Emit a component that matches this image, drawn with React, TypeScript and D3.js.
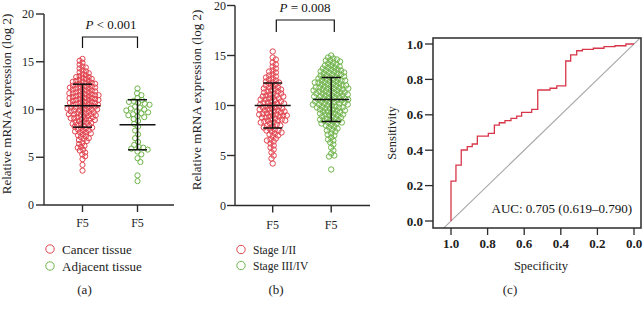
import React from 'react';
import * as d3 from 'd3';

// ---------- data ----------
const valueTicks = [0, 5, 10, 15, 20];
const groupLabels = ['F5', 'F5'];

const cancerTissue = [15.3, 15.1, 14.9, 14.7, 14.5, 14.4, 14.3, 14.1, 14.0, 13.9, 13.8, 13.7, 13.6, 13.5, 13.4, 13.4, 13.3, 13.2, 13.2, 13.1, 13.0, 13.0, 12.9, 12.9, 12.8, 12.8, 12.7, 12.7, 12.6, 12.6, 12.5, 12.5, 12.4, 12.4, 12.3, 12.3, 12.3, 12.2, 12.2, 12.1, 12.1, 12.0, 12.0, 11.9, 11.9, 11.8, 11.8, 11.7, 11.7, 11.7, 11.6, 11.6, 11.5, 11.5, 11.5, 11.4, 11.4, 11.3, 11.3, 11.2, 11.2, 11.2, 11.1, 11.1, 11.0, 11.0, 11.0, 10.9, 10.9, 10.8, 10.8, 10.7, 10.7, 10.7, 10.6, 10.6, 10.5, 10.5, 10.5, 10.4, 10.4, 10.3, 10.3, 10.2, 10.2, 10.2, 10.1, 10.1, 10.0, 10.0, 10.0, 9.9, 9.9, 9.8, 9.8, 9.7, 9.7, 9.6, 9.6, 9.5, 9.5, 9.5, 9.4, 9.4, 9.3, 9.3, 9.2, 9.2, 9.1, 9.1, 9.0, 9.0, 8.9, 8.9, 8.8, 8.7, 8.7, 8.6, 8.6, 8.5, 8.5, 8.4, 8.3, 8.3, 8.2, 8.1, 8.1, 8.0, 7.9, 7.8, 7.8, 7.7, 7.6, 7.6, 7.5, 7.4, 7.3, 7.2, 7.1, 7.0, 6.9, 6.8, 6.7, 6.5, 6.4, 6.2, 6.1, 6.0, 5.8, 5.7, 5.5, 5.3, 5.1, 4.8, 4.2, 3.6];
const adjacentTissue = [12.2, 11.7, 11.5, 11.2, 11.0, 10.9, 10.8, 10.7, 10.6, 10.5, 10.3, 10.2, 10.1, 10.0, 9.9, 9.8, 9.7, 9.6, 9.5, 9.4, 9.3, 9.2, 9.0, 8.8, 8.5, 8.2, 7.8, 7.4, 7.0, 6.6, 6.3, 6.1, 6.0, 5.9, 5.8, 5.6, 5.3, 4.9, 4.5, 3.1, 2.5];
const stageEarly = [15.4, 14.8, 14.6, 14.3, 14.1, 13.9, 13.7, 13.5, 13.4, 13.3, 13.1, 13.0, 12.9, 12.8, 12.7, 12.6, 12.5, 12.4, 12.3, 12.3, 12.2, 12.1, 12.0, 11.9, 11.8, 11.8, 11.7, 11.6, 11.6, 11.5, 11.4, 11.4, 11.3, 11.2, 11.2, 11.1, 11.0, 11.0, 10.9, 10.9, 10.8, 10.7, 10.7, 10.6, 10.6, 10.5, 10.4, 10.4, 10.3, 10.3, 10.2, 10.2, 10.1, 10.1, 10.0, 9.9, 9.9, 9.8, 9.8, 9.7, 9.7, 9.6, 9.6, 9.5, 9.5, 9.4, 9.4, 9.3, 9.3, 9.2, 9.2, 9.1, 9.1, 9.0, 9.0, 9.0, 8.9, 8.9, 8.8, 8.8, 8.7, 8.6, 8.6, 8.5, 8.5, 8.5, 8.4, 8.3, 8.3, 8.2, 8.1, 8.0, 8.0, 7.9, 7.8, 7.7, 7.6, 7.5, 7.5, 7.4, 7.3, 7.2, 7.1, 7.0, 6.9, 6.7, 6.6, 6.5, 6.4, 6.2, 6.0, 5.8, 5.6, 5.3, 5.0, 4.7, 4.2];
const stageLate = [15.0, 14.8, 14.7, 14.6, 14.5, 14.5, 14.4, 14.3, 14.2, 14.1, 14.0, 14.0, 13.9, 13.8, 13.8, 13.7, 13.6, 13.6, 13.5, 13.5, 13.4, 13.4, 13.3, 13.3, 13.2, 13.2, 13.1, 13.1, 13.0, 13.0, 12.9, 12.9, 12.8, 12.8, 12.7, 12.7, 12.6, 12.6, 12.5, 12.5, 12.5, 12.4, 12.4, 12.3, 12.3, 12.3, 12.2, 12.2, 12.1, 12.1, 12.0, 12.0, 12.0, 11.9, 11.9, 11.8, 11.8, 11.8, 11.7, 11.7, 11.7, 11.6, 11.6, 11.5, 11.5, 11.5, 11.4, 11.4, 11.3, 11.3, 11.3, 11.2, 11.2, 11.2, 11.1, 11.1, 11.0, 11.0, 11.0, 10.9, 10.9, 10.8, 10.8, 10.8, 10.7, 10.7, 10.6, 10.6, 10.6, 10.5, 10.5, 10.5, 10.4, 10.4, 10.3, 10.3, 10.3, 10.2, 10.2, 10.1, 10.1, 10.1, 10.0, 10.0, 9.9, 9.9, 9.8, 9.8, 9.8, 9.7, 9.7, 9.6, 9.6, 9.5, 9.5, 9.4, 9.4, 9.3, 9.3, 9.2, 9.2, 9.1, 9.1, 9.0, 9.0, 8.9, 8.9, 8.8, 8.7, 8.7, 8.6, 8.6, 8.5, 8.5, 8.4, 8.3, 8.3, 8.2, 8.2, 8.1, 8.0, 7.9, 7.8, 7.7, 7.6, 7.5, 7.4, 7.2, 7.1, 7.0, 6.8, 6.6, 6.5, 6.3, 6.1, 5.8, 5.5, 5.2, 5.0, 4.9, 3.6];

const meansA = [10.4, 8.4];
const sdsA = [2.25, 2.62];
const meansB = [10.0, 10.6];
const sdsB = [2.25, 2.2];

const pValueA = '< 0.001';
const pValueB = '= 0.008';
const legendA = ['Cancer tissue', 'Adjacent tissue'];
const legendB = ['Stage I/II', 'Stage III/IV'];

const rocSpec = [1.0, 1.0, 0.973, 0.944, 0.911, 0.884, 0.856, 0.796, 0.763, 0.736, 0.705, 0.672, 0.641, 0.614, 0.559, 0.526, 0.459, 0.422, 0.373, 0.346, 0.313, 0.282, 0.222, 0.164, 0.104, 0.044, 0.0];
const rocSens = [0.0, 0.225, 0.316, 0.401, 0.42, 0.435, 0.48, 0.495, 0.542, 0.555, 0.567, 0.58, 0.593, 0.614, 0.631, 0.74, 0.75, 0.763, 0.904, 0.938, 0.962, 0.97, 0.976, 0.985, 0.99, 1.0, 1.0];
const rocTicks = [0, 0.2, 0.4, 0.6, 0.8, 1.0];
const aucLabel = 'AUC: 0.705 (0.619–0.790)';

// ---------- styles ----------
const RED = '#e2434e';
const GREEN = '#6fb44a';
const AXIS = '#2b2b2b';
const FONT = '"Liberation Serif", "Times New Roman", serif';

type Pt = { v: number; y: number; x: number };

function beeswarm(values: number[], y: (v: number) => number, d: number): Pt[] {
  const pts: Pt[] = values.map((v) => ({ v, y: y(v), x: 0 }));
  const order = pts.map((_, i) => i).sort((a, b) => pts[a].y - pts[b].y);
  const placed: Pt[] = [];
  order.forEach((idx, k) => {
    const p = pts[idx];
    const near = placed.filter((q) => Math.abs(q.y - p.y) < d);
    const cands = [0];
    near.forEach((q) => {
      const off = Math.sqrt(d * d - (q.y - p.y) ** 2);
      cands.push(q.x + off, q.x - off);
    });
    const sign = k % 2 === 0 ? 1 : -1;
    cands.sort((a, b) => Math.abs(a) - Math.abs(b) || sign * (b - a));
    for (const c of cands) {
      if (near.every((q) => (q.x - c) ** 2 + (q.y - p.y) ** 2 >= d * d - 0.01)) {
        p.x = c;
        break;
      }
    }
    placed.push(p);
  });
  return pts;
}

type PanelCfg = {
  yRange: [number, number];
  axisX: number;
  axisEnd: number;
  centers: number[];
  data: number[][];
  colors: string[];
  sep: number[];
  radius: number;
  means: number[];
  sds: number[];
  bracket: { x1: number; x2: number; top: number; bot: number; tx: number; ty: number; text: string };
  tickLabelX: number;
  xLabelY: number;
  yTitle: { x: number; y: number };
  legend: { cx: number; cy: number[]; tx: number; ty: number[]; labels: string[]; size: number };
  caption: { x: number; y: number; text: string };
};

function DotPanel({ cfg }: { cfg: PanelCfg }) {
  const y = d3.scaleLinear().domain([0, 20]).range(cfg.yRange);
  const base = y(0);
  return (
    <g>
      {cfg.data.map((vals, gi) =>
        beeswarm(vals, y, cfg.sep[gi]).map((p, i) => (
          <circle key={`${gi}-${i}`} cx={cfg.centers[gi] + p.x} cy={p.y} r={cfg.radius}
            fill="none" stroke={cfg.colors[gi]} strokeWidth={1} />
        ))
      )}
      {cfg.means.map((m, gi) => {
        const c = cfg.centers[gi];
        const hi = y(m + cfg.sds[gi]);
        const lo = y(m - cfg.sds[gi]);
        return (
          <g key={gi} stroke="#111" strokeWidth={1.5}>
            <line x1={c - 18} x2={c + 18} y1={y(m)} y2={y(m)} />
            <line x1={c} x2={c} y1={hi} y2={lo} />
            <line x1={c - 9.5} x2={c + 9.5} y1={hi} y2={hi} />
            <line x1={c - 9.5} x2={c + 9.5} y1={lo} y2={lo} />
          </g>
        );
      })}
      <g stroke={AXIS} strokeWidth={1.4} fill="none">
        <line x1={cfg.axisX} x2={cfg.axisX} y1={y(20)} y2={base} />
        <line x1={cfg.axisX} x2={cfg.axisEnd} y1={base} y2={base} />
        {valueTicks.map((t) => (
          <line key={t} x1={cfg.axisX - 8} x2={cfg.axisX} y1={y(t)} y2={y(t)} />
        ))}
        {cfg.centers.map((c, i) => (
          <line key={i} x1={c} x2={c} y1={base} y2={base + 7} />
        ))}
      </g>
      {valueTicks.map((t) => (
        <text key={t} x={cfg.tickLabelX} y={y(t) + 4} fontSize={12} textAnchor="end" fill="#222">{t}</text>
      ))}
      {cfg.centers.map((c, i) => (
        <text key={i} x={c} y={cfg.xLabelY} fontSize={12} textAnchor="middle" fill="#222">{groupLabels[i]}</text>
      ))}
      <text transform={`translate(${cfg.yTitle.x},${cfg.yTitle.y}) rotate(-90)`} fontSize={13} textAnchor="middle" fill="#222">
        Relative mRNA expression (log 2)
      </text>
      <path d={`M${cfg.bracket.x1},${cfg.bracket.bot}V${cfg.bracket.top}H${cfg.bracket.x2}V${cfg.bracket.bot}`}
        fill="none" stroke="#111" strokeWidth={1.2} />
      <text x={cfg.bracket.tx} y={cfg.bracket.ty} fontSize={13} textAnchor="middle" fill="#111">
        <tspan fontStyle="italic">P</tspan> {cfg.bracket.text}
      </text>
      {cfg.legend.labels.map((l, i) => (
        <g key={l}>
          <circle cx={cfg.legend.cx} cy={cfg.legend.cy[i]} r={4.2} fill="none" stroke={cfg.colors[i]} strokeWidth={1} />
          <text x={cfg.legend.tx} y={cfg.legend.ty[i]} fontSize={cfg.legend.size} fill="#222">{l}</text>
        </g>
      ))}
      <text x={cfg.caption.x} y={cfg.caption.y} fontSize={13} textAnchor="middle" fill="#222">{cfg.caption.text}</text>
    </g>
  );
}

const panelA: PanelCfg = {
  yRange: [205, 14],
  axisX: 44,
  axisEnd: 174,
  centers: [82.5, 137.5],
  data: [cancerTissue, adjacentTissue],
  colors: [RED, GREEN],
  sep: [3.5, 4.8],
  radius: 2.6,
  means: meansA,
  sds: sdsA,
  bracket: { x1: 82.5, x2: 137.5, top: 37, bot: 48, tx: 111, ty: 29, text: pValueA },
  tickLabelX: 34,
  xLabelY: 227,
  yTitle: { x: 11, y: 104 },
  legend: { cx: 50, cy: [249, 266], tx: 62, ty: [253.5, 270.5], labels: legendA, size: 13 },
  caption: { x: 84.5, y: 294, text: '(a)' },
};

const panelB: PanelCfg = {
  yRange: [205.5, 5.5],
  axisX: 235,
  axisEnd: 370,
  centers: [272.7, 331.2],
  data: [stageEarly, stageLate],
  colors: [RED, GREEN],
  sep: [3.7, 3.7],
  radius: 2.7,
  means: meansB,
  sds: sdsB,
  bracket: { x1: 276.3, x2: 334.3, top: 20, bot: 32, tx: 305, ty: 11.5, text: pValueB },
  tickLabelX: 226,
  xLabelY: 228.5,
  yTitle: { x: 201, y: 100 },
  legend: { cx: 241, cy: [249.5, 265.5], tx: 253, ty: [253.5, 269.5], labels: legendB, size: 11.5 },
  caption: { x: 276, y: 294, text: '(b)' },
};

function RocPanel() {
  const box = { x0: 433, x1: 641, y0: 38, y1: 228 };
  const x = d3.scaleLinear().domain([1, 0]).range([451, 634]);
  const y = d3.scaleLinear().domain([0, 1]).range([221, 44]);
  const pts = rocSpec.map((s, i) => [s, rocSens[i]] as [number, number]);
  const line = d3.line<[number, number]>().x((d) => x(d[0])).y((d) => y(d[1])).curve(d3.curveStepAfter);
  return (
    <g>
      <defs>
        <clipPath id="rocclip">
          <rect x={box.x0} y={box.y0} width={box.x1 - box.x0} height={box.y1 - box.y0} />
        </clipPath>
      </defs>
      <g clipPath="url(#rocclip)">
        <line x1={x(1.2)} y1={y(-0.2)} x2={x(-0.2)} y2={y(1.2)} stroke="#a9a9a9" strokeWidth={1.1} />
        <path d={line(pts) || ''} fill="none" stroke="#d8374a" strokeWidth={1.3} />
      </g>
      <rect x={box.x0} y={box.y0} width={box.x1 - box.x0} height={box.y1 - box.y0} fill="none" stroke={AXIS} strokeWidth={1.5} />
      <g stroke={AXIS} strokeWidth={1.3}>
        {rocTicks.map((t) => (
          <line key={'y' + t} x1={box.x0 - 8} x2={box.x0} y1={y(t)} y2={y(t)} />
        ))}
        {rocTicks.map((t) => (
          <line key={'x' + t} x1={x(t)} x2={x(t)} y1={box.y1} y2={box.y1 + 7} />
        ))}
      </g>
      {rocTicks.map((t) => (
        <text key={'yl' + t} x={box.x0 - 10} y={y(t) + 4.5} fontSize={13} fontWeight="bold" textAnchor="end" fill="#222">{t.toFixed(1)}</text>
      ))}
      {rocTicks.map((t) => (
        <text key={'xl' + t} x={x(t)} y={248} fontSize={13} fontWeight="bold" textAnchor="middle" fill="#222">{t.toFixed(1)}</text>
      ))}
      <text x={632} y={212.5} fontSize={13} textAnchor="end" fill="#111">{aucLabel}</text>
      <text x={541} y={270} fontSize={12.5} textAnchor="middle" fill="#222">Specificity</text>
      <text transform="translate(396,133) rotate(-90)" fontSize={12.5} textAnchor="middle" fill="#222">Sensitivity</text>
      <text x={510} y={294} fontSize={13} textAnchor="middle" fill="#222">(c)</text>
    </g>
  );
}

export default function App() {
  return (
    <svg width={644} height={310} viewBox="0 0 644 310"
      style={{ position: 'absolute', left: 0, top: 0, background: '#fff', fontFamily: FONT }}>
      <rect width={644} height={310} fill="#fff" />
      <DotPanel cfg={panelA} />
      <DotPanel cfg={panelB} />
      <RocPanel />
    </svg>
  );
}
